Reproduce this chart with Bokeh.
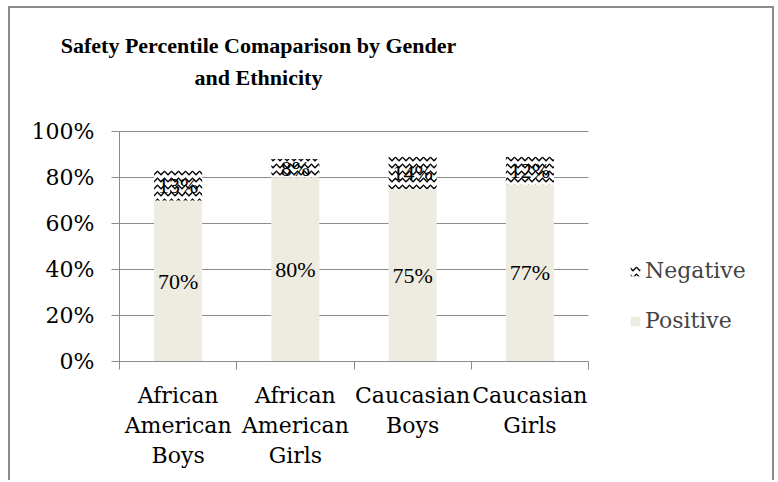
from bokeh.plotting import figure
from bokeh.models import (ColumnDataSource, Range1d, FixedTicker, Legend, LegendItem,
                          LabelSet, Label)
from bokeh.embed import file_html
from bokeh.resources import INLINE

# Survey results (percent of respondents)
groups = ["African\nAmerican\nBoys", "African\nAmerican\nGirls", "Caucasian\nBoys", "Caucasian\nGirls"]
positive = [70, 80, 75, 77]
negative = [13, 8, 14, 12]
y_ticks = [0, 20, 40, 60, 80, 100]
title_lines = ["Safety Percentile Comaparison by Gender", "and Ethnicity"]

n = len(groups)
xs = [i + 0.5 for i in range(n)]
source = ColumnDataSource(dict(
    x=xs,
    positive=positive,
    negative=negative,
    pos_mid=[p / 2 for p in positive],
    neg_mid=[p + q / 2 for p, q in zip(positive, negative)],
    pos_text=[f"{p}%" for p in positive],
    neg_text=[f"{q}%" for q in negative],
))

GRID = "#8c8c8c"
LABEL_FONT = "DejaVu Serif"

# Page layout (pixels). The frame fills the whole chart box; both axes are pinned
# at the origin so the title, axis labels and legend all sit inside the frame.
PAGE_LEFT, PAGE_TOP = 10, 8          # canvas origin on the page
FRAME_LEFT, FRAME_BOTTOM = 119, 361  # page position of the value axis origin
BAR_AREA_W, BAR_AREA_H = 469, 230    # pixels covered by the categories / by 0..100 %
WIDTH, HEIGHT = 766, 474

x_per_px = n / BAR_AREA_W
y_per_px = 100 / BAR_AREA_H


def page_to_data(px, py):
    return (px - FRAME_LEFT) * x_per_px, (FRAME_BOTTOM - py) * y_per_px


x0, y1 = page_to_data(PAGE_LEFT, PAGE_TOP)
x1, y0 = page_to_data(PAGE_LEFT + WIDTH, PAGE_TOP + HEIGHT)
p = figure(width=WIDTH, height=HEIGHT, output_backend="svg", toolbar_location=None,
           x_range=Range1d(x0, x1), y_range=Range1d(y0, y1),
           min_border_left=0, min_border_right=0, min_border_top=0, min_border_bottom=0)
p.margin = (6, 0, 0, 8)
p.styles = {"border-top": "2px solid #8c8c8c", "border-left": "2px solid #8c8c8c",
            "border-right": "2px solid #8c8c8c"}
p.outline_line_color = None
p.background_fill_color = "white"
p.border_fill_color = "white"
p.title = None

# chart title, two centred lines
for line, py in zip(title_lines, (45, 77)):
    tx, ty = page_to_data(258, py)
    p.add_layout(Label(x=tx, y=ty, text=line, text_align="center", text_baseline="middle",
                       text_font="Liberation Serif", text_font_style="bold",
                       text_font_size="22px", text_color="black"))

# horizontal gridlines over the category area only
p.xgrid.grid_line_color = None
p.ygrid.grid_line_color = None
p.segment(x0=[0] * len(y_ticks), x1=[n] * len(y_ticks), y0=y_ticks, y1=y_ticks,
          line_color=GRID, line_width=1)

renderers = p.vbar_stack(["positive", "negative"], x="x", width=0.41, source=source,
                         color=["#EEECE1", "white"], line_color=None)
neg = renderers[1]
neg.glyph.hatch_pattern = "horizontal_wave"
neg.glyph.hatch_color = "black"
neg.glyph.hatch_scale = 7
neg.glyph.hatch_weight = 1.3

for col, txt in (("pos_mid", "pos_text"), ("neg_mid", "neg_text")):
    p.add_layout(LabelSet(x="x", y=col, text=txt, source=source, text_align="center",
                          text_baseline="middle", text_font=LABEL_FONT,
                          text_font_size="22px", text_color="black"))

# y axis, pinned at the first category boundary
p.yaxis.fixed_location = 0
p.yaxis.bounds = (0, 100)
p.yaxis.ticker = FixedTicker(ticks=y_ticks)
p.yaxis.major_label_overrides = {t: f"{t}%" for t in y_ticks}
p.yaxis.major_label_text_font = LABEL_FONT
p.yaxis.major_label_text_font_size = "22px"
p.yaxis.major_label_text_color = "black"
p.yaxis.axis_line_color = GRID
p.yaxis.major_tick_line_color = GRID
p.yaxis.major_tick_in = 0
p.yaxis.major_tick_out = 8
p.yaxis.minor_tick_line_color = None
p.yaxis.major_label_standoff = 17

# x axis, pinned at 0 %: labels at category centres, tick marks on category boundaries
p.xaxis.fixed_location = 0
p.xaxis.bounds = (0, n)
p.xaxis.ticker = FixedTicker(ticks=xs, minor_ticks=list(range(n + 1)))
p.xaxis.major_label_overrides = {x: g for x, g in zip(xs, groups)}
p.xaxis.major_label_text_font = LABEL_FONT
p.xaxis.major_label_text_font_size = "22px"
p.xaxis.major_label_text_color = "black"
p.xaxis.major_label_text_align = "center"
p.xaxis.axis_line_color = GRID
p.xaxis.major_tick_line_color = None
p.xaxis.minor_tick_line_color = GRID
p.xaxis.minor_tick_in = 0
p.xaxis.minor_tick_out = 8
p.xaxis.major_label_standoff = 13

legend = Legend(items=[LegendItem(label="Negative", renderers=[neg]),
                       LegendItem(label="Positive", renderers=[renderers[0]])],
                location=(619, 28 + PAGE_TOP + HEIGHT - FRAME_BOTTOM),
                label_text_font=LABEL_FONT, label_text_font_size="22px",
                glyph_width=12, glyph_height=12, spacing=25, label_standoff=4,
                border_line_color=None, background_fill_alpha=0)
p.add_layout(legend)

open("out.html", "w").write(file_html(p, INLINE))
